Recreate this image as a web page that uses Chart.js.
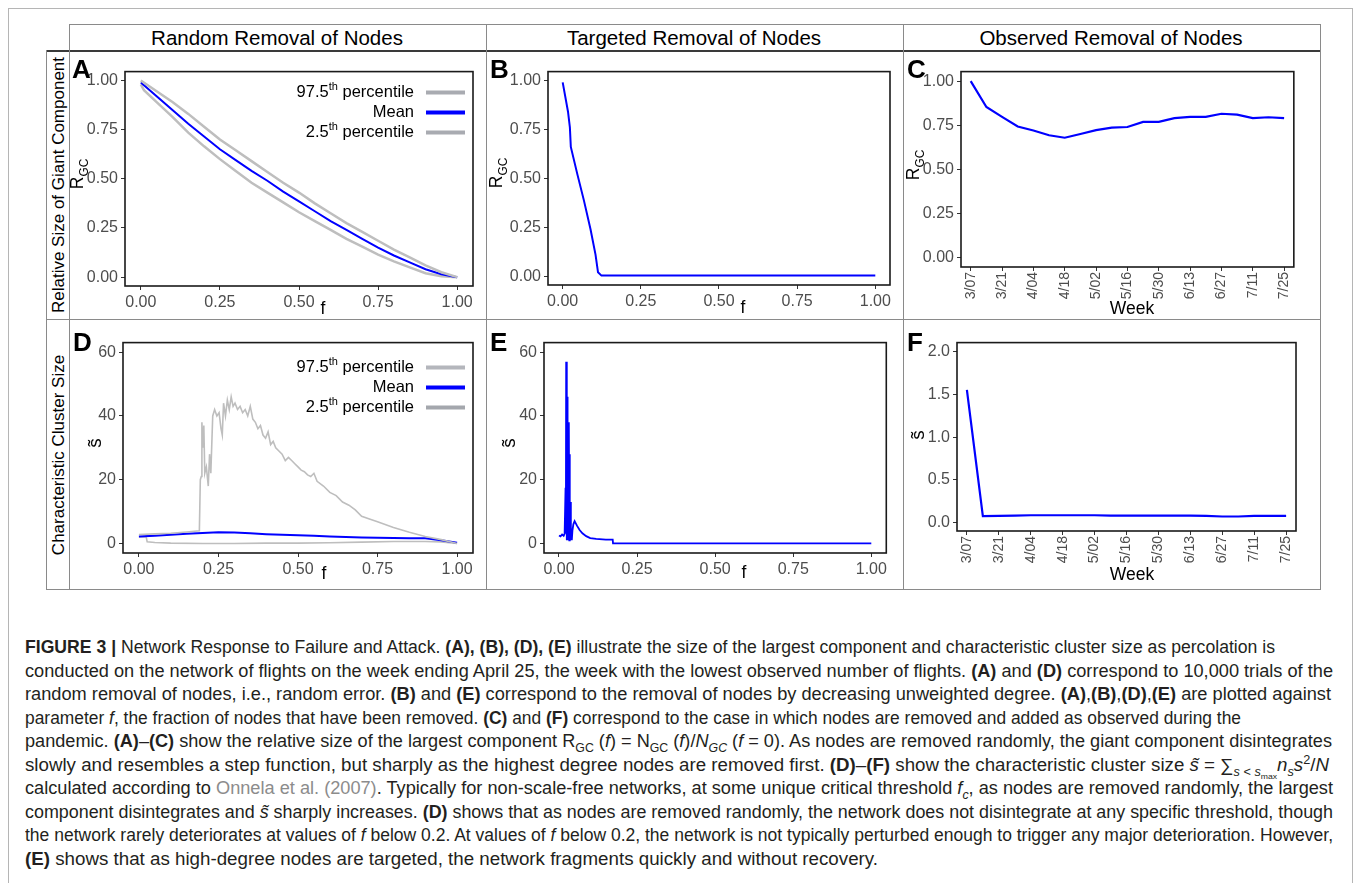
<!DOCTYPE html>
<html>
<head>
<meta charset="utf-8">
<script src="https://cdn.jsdelivr.net/npm/chart.js@4.4.0/dist/chart.umd.min.js"></script>
<style>
  body { margin:0; width:1355px; height:883px; position:relative; overflow:hidden; background:#fff;
         font-family:'Liberation Sans', Arial, sans-serif; color:#000; }
  .ln { position:absolute; background:#8a8a8a; }
  .t { position:absolute; white-space:nowrap; line-height:1; }
  .c { transform:translate(-50%,-50%); }
  .r { transform:translate(-50%,-50%) rotate(-90deg); }
  .lab { font-weight:bold; font-size:26px; }
  canvas { position:absolute; }
  sub, sup { font-size:0.68em; line-height:0; }
  .cap { position:absolute; left:25px; white-space:nowrap; font-size:17.5px; line-height:20px; color:#231f20; transform-origin:0 50%; }
</style>
</head>
<body>

<!-- page frame -->
<div class="ln" style="left:8px;top:8px;width:1px;height:880px;background:#b5b5b5"></div>
<div class="ln" style="left:8px;top:8px;width:1345px;height:1px;background:#b5b5b5"></div>
<div class="ln" style="left:1352px;top:8px;width:1px;height:880px;background:#b5b5b5"></div>

<!-- figure grid -->
<div class="ln" style="left:69px;top:24px;width:1252px;height:1px"></div>
<div class="ln" style="left:46px;top:50px;width:1275px;height:2px;background:#3a3a3a"></div>
<div class="ln" style="left:46px;top:50px;width:1px;height:540px"></div>
<div class="ln" style="left:69px;top:24px;width:1px;height:566px"></div>
<div class="ln" style="left:486px;top:24px;width:1px;height:566px"></div>
<div class="ln" style="left:903px;top:24px;width:1px;height:566px"></div>
<div class="ln" style="left:1320px;top:24px;width:1px;height:566px"></div>
<div class="ln" style="left:46px;top:319px;width:1275px;height:1px"></div>
<div class="ln" style="left:46px;top:589px;width:1275px;height:1px"></div>

<div class="t c" style="left:277px;top:38px;font-size:20.5px">Random Removal of Nodes</div>
<div class="t c" style="left:694px;top:38px;font-size:20.5px">Targeted Removal of Nodes</div>
<div class="t c" style="left:1111px;top:38px;font-size:20.5px">Observed Removal of Nodes</div>
<div class="t r" style="left:58px;top:185px;font-size:17px">Relative Size of Giant Component</div>
<div class="t r" style="left:58px;top:455px;font-size:17px">Characteristic Cluster Size</div>

<canvas id="chartA"></canvas>
<canvas id="chartB"></canvas>
<canvas id="chartC"></canvas>
<canvas id="chartD"></canvas>
<canvas id="chartE"></canvas>
<canvas id="chartF"></canvas>

<div class="t lab" style="left:72px;top:56px">A</div>
<div class="t lab" style="left:490px;top:56px">B</div>
<div class="t lab" style="left:907px;top:56px">C</div>
<div class="t lab" style="left:73px;top:329px">D</div>
<div class="t lab" style="left:490px;top:329px">E</div>
<div class="t lab" style="left:907px;top:329px">F</div>

<div class="t r" style="left:78px;top:174px;font-size:17.5px">R<sub>GC</sub></div>
<div class="t r" style="left:497px;top:173px;font-size:17.5px">R<sub>GC</sub></div>
<div class="t r" style="left:914px;top:165px;font-size:17.5px">R<sub>GC</sub></div>
<div class="t r" style="left:94px;top:443px;font-size:19px">s&#771;</div>
<div class="t r" style="left:508px;top:443px;font-size:19px">s&#771;</div>
<div class="t r" style="left:917px;top:435px;font-size:19px">s&#771;</div>

<div class="t c" style="left:323px;top:309px;font-size:17.5px">f</div>
<div class="t c" style="left:743px;top:308px;font-size:17.5px">f</div>
<div class="t c" style="left:1132px;top:309px;font-size:17.5px">Week</div>
<div class="t c" style="left:324px;top:574px;font-size:17.5px">f</div>
<div class="t c" style="left:744px;top:573px;font-size:17.5px">f</div>
<div class="t c" style="left:1132px;top:575px;font-size:17.5px">Week</div>

<!-- caption -->
<div class="cap" data-end="1275" style="top:637px"><b>FIGURE 3 |</b> Network Response to Failure and Attack. <b>(A), (B), (D), (E)</b> illustrate the size of the largest component and characteristic cluster size as percolation is</div>
<div class="cap" data-end="1333" style="top:661px">conducted on the network of flights on the week ending April 25, the week with the lowest observed number of flights. <b>(A)</b> and <b>(D)</b> correspond to 10,000 trials of the</div>
<div class="cap" data-end="1331" style="top:684px">random removal of nodes, i.e., random error. <b>(B)</b> and <b>(E)</b> correspond to the removal of nodes by decreasing unweighted degree. <b>(A)</b>,<b>(B)</b>,<b>(D)</b>,<b>(E)</b> are plotted against</div>
<div class="cap" data-end="1241" style="top:708px">parameter <i>f</i>, the fraction of nodes that have been removed. <b>(C)</b> and <b>(F)</b> correspond to the case in which nodes are removed and added as observed during the</div>
<div class="cap" data-end="1332" style="top:731px">pandemic. <b>(A)</b>–<b>(C)</b> show the relative size of the largest component R<sub>GC</sub> (<i>f</i>) = N<sub>GC</sub> (<i>f</i>)/<i>N<sub>GC</sub></i> (<i>f</i> = 0). As nodes are removed randomly, the giant component disintegrates</div>
<div class="cap" data-end="1329" style="top:755px">slowly and resembles a step function, but sharply as the highest degree nodes are removed first. <b>(D)</b>–<b>(F)</b> show the characteristic cluster size <i>s&#771;</i> = &sum;<sub><i>s</i> &lt; <i>s</i><sub>max</sub></sub><i>n<sub>s</sub>s</i><sup>2</sup>/<i>N</i></div>
<div class="cap" data-end="1333" style="top:778px">calculated according to <span style="color:#8c8c8c">Onnela et al. (2007)</span>. Typically for non-scale-free networks, at some unique critical threshold <i>f<sub>c</sub></i>, as nodes are removed randomly, the largest</div>
<div class="cap" data-end="1333" style="top:802px">component disintegrates and <i>s&#771;</i> sharply increases. <b>(D)</b> shows that as nodes are removed randomly, the network does not disintegrate at any specific threshold, though</div>
<div class="cap" data-end="1333" style="top:825px">the network rarely deteriorates at values of <i>f</i> below 0.2. At values of <i>f</i> below 0.2, the network is not typically perturbed enough to trigger any major deterioration. However,</div>
<div class="cap" data-end="878" style="top:849px"><b>(E)</b> shows that as high-degree nodes are targeted, the network fragments quickly and without recovery.</div>

<script>
// ---- data ----
const fracTicks = [0, 0.25, 0.5, 0.75, 1];
const rgcTicks = [0, 0.25, 0.5, 0.75, 1];
const sizeTicks = [0, 20, 40, 60];
const obsSizeTicks = [0, 0.5, 1, 1.5, 2];
const weekTicks = [0, 2, 4, 6, 8, 10, 12, 14, 16, 18, 20];
const weekLabels = ['3/07','3/14','3/21','3/28','4/04','4/11','4/18','4/25','5/02','5/09','5/16',
                    '5/23','5/30','6/06','6/13','6/20','6/27','7/04','7/11','7/18','7/25'];
const weekIndex = weekLabels.map((w, i) => i);

// A: random removal, relative size of giant component
const randF = [0,0.05,0.10,0.15,0.20,0.25,0.30,0.35,0.40,0.45,0.50,0.55,0.60,0.65,0.70,0.75,0.80,0.85,0.90,0.95,1.00];
const randMeanR = [0.99,0.92,0.85,0.78,0.715,0.65,0.595,0.54,0.49,0.435,0.385,0.335,0.285,0.24,0.195,0.15,0.11,0.075,0.04,0.015,0.0];
const randHiR = [1.0,0.945,0.89,0.83,0.765,0.70,0.645,0.59,0.535,0.48,0.43,0.375,0.325,0.275,0.23,0.185,0.14,0.10,0.06,0.025,0.0];
const randLoF = [0,0.01,0.05,0.10,0.15,0.20,0.25,0.30,0.35,0.40,0.45,0.50,0.55,0.60,0.65,0.70,0.75,0.80,0.85,0.90,0.95,1.00];
const randLoR = [0.98,0.95,0.89,0.815,0.735,0.665,0.60,0.54,0.48,0.43,0.38,0.33,0.285,0.24,0.195,0.155,0.115,0.08,0.05,0.02,0.005,0.0];

// B: targeted removal
const targF = [0,0.017,0.023,0.026,0.047,0.068,0.089,0.105,0.113,0.124,1.0];
const targR = [0.99,0.84,0.76,0.66,0.52,0.386,0.24,0.11,0.02,0.003,0.003];

// C / F: observed removal per week
const obsR = [1.0,0.853,0.797,0.743,0.72,0.693,0.679,0.70,0.722,0.736,0.74,0.769,0.769,0.79,0.797,0.797,0.815,0.81,0.79,0.795,0.79];
const obsS = [1.556,0.074,0.078,0.08,0.085,0.085,0.085,0.085,0.085,0.08,0.08,0.08,0.08,0.08,0.08,0.078,0.07,0.07,0.078,0.078,0.078];

// D: random removal, characteristic cluster size
const randMeanS = [2.2,2.4,2.7,3.0,3.3,3.5,3.4,3.2,2.9,2.7,2.6,2.4,2.2,2.0,1.9,1.8,1.7,1.6,1.6,1.0,0.2];
const randLoSF = [0,0.023,0.026,0.05,0.10,0.20,0.30,0.40,0.50,0.60,0.70,0.80,0.90,0.95,1.0];
const randLoS = [2.0,2.0,0.5,0.3,0.1,0.0,0.0,0.1,0.1,0.2,0.4,0.6,0.6,0.5,0.0];
const randHiSF = [0,0.05,0.10,0.15,0.19,0.193,0.196,0.198,0.201,0.204,0.207,0.212,0.218,0.222,0.226,0.232,0.238,0.245,0.252,0.258,0.262,
                  0.266,0.272,0.278,0.284,0.29,0.296,0.302,0.31,0.318,0.326,0.334,0.342,0.35,0.358,0.366,0.374,0.382,0.39,0.398,0.406,
                  0.414,0.422,0.43,0.44,0.45,0.46,0.47,0.48,0.49,0.50,0.51,0.52,0.53,0.54,0.55,0.56,0.58,0.60,0.62,0.64,0.66,0.68,0.70,
                  0.72,0.75,0.80,0.85,0.90,0.95,1.0];
const randHiS = [2.8,3.0,3.2,3.6,4.0,20,21,38,30,37,22,24,18,28,22,40,42,40,41,36,34,
                 44,40,45,42,46,43,44,42,43,41,42,40,43,39,38,36,37,34,33,35,
                 31,32,30,29,28,26,27,26,25,24,23,22.5,21.5,21,22,19.5,18,16,15,13,12,10.5,8.5,
                 7.8,6.8,5.0,3.5,2.2,1.2,0];

// E: targeted removal, characteristic cluster size
const targSF = [0,0.005,0.01,0.015,0.018,0.021,0.022,0.023,0.025,0.026,0.027,0.028,0.029,0.031,0.032,0.033,0.034,0.035,
                0.036,0.038,0.039,0.041,0.043,0.046,0.05,0.058,0.066,0.075,0.087,0.10,0.119,0.15,0.172,0.173,0.20,1.0];
const targS = [2.5,2.2,2.8,2.4,3.0,17.5,3,57,1,46,1,29,12,1,38,1,28,2,
               13,1,3,1,4,6,7,5.5,4.2,3.2,2.3,1.7,1.4,1.2,1.2,0,0,0];

const legendNames = ['97.5th percentile', 'Mean', '2.5th percentile'];

// ---- styling ----
const FONT = "'Liberation Sans', Arial, sans-serif";
const tickGrey = '#4d4d4d';
const blue = '#0000ff';
const grey = '#bebebe';

function pts(xs, ys) {
    return xs.map((x, i) => ({ x: x, y: ys[i] }));
}

function line(label, xs, ys, color, width) {
    return { label: label, data: pts(xs, ys), borderColor: color, borderWidth: width,
             pointRadius: 0, tension: 0, fill: false };
}

// black panel border like ggplot's theme_bw
const framePlugin = {
    id: 'frame',
    afterDraw(chart) {
        const a = chart.chartArea, ctx = chart.ctx;
        ctx.save();
        ctx.strokeStyle = '#1a1a1a';
        ctx.lineWidth = 1.6;
        ctx.strokeRect(a.left, a.top, a.right - a.left, a.bottom - a.top);
        ctx.restore();
    }
};

// legend drawn right aligned with line key on the right
const ggLegend = {
    id: 'ggLegend',
    afterDraw(chart, args, opts) {
        const ctx = chart.ctx, a = chart.chartArea;
        ctx.save();
        chart.data.datasets.forEach((ds, i) => {
            const y = a.top + opts.top + i * 20;
            const m = ds.label.match(/^([\d.]+)(th)(.*)$/);
            ctx.fillStyle = '#000';
            ctx.textBaseline = 'middle';
            const xr = a.right - 59;
            if (m) {
                ctx.font = '16.5px ' + FONT;
                const w1 = ctx.measureText(m[1]).width, w3 = ctx.measureText(m[3]).width;
                ctx.font = '11px ' + FONT;
                const w2 = ctx.measureText(m[2]).width;
                let x = xr - w1 - w2 - w3;
                ctx.font = '16.5px ' + FONT;
                ctx.fillText(m[1], x, y);
                ctx.font = '11px ' + FONT;
                ctx.fillText(m[2], x + w1, y - 6);
                ctx.font = '16.5px ' + FONT;
                ctx.fillText(m[3], x + w1 + w2, y);
            } else {
                ctx.font = '16.5px ' + FONT;
                ctx.textAlign = 'right';
                ctx.fillText(ds.label, xr, y);
                ctx.textAlign = 'left';
            }
            ctx.strokeStyle = opts.keys[i];
            ctx.lineWidth = 4;
            ctx.beginPath();
            ctx.moveTo(a.right - 47, y);
            ctx.lineTo(a.right - 8, y);
            ctx.stroke();
        });
        ctx.restore();
    }
};

function axis(min, max, ticks, fmt, size, rotate) {
    return {
        type: 'linear', min: min, max: max,
        afterBuildTicks: s => { s.ticks = ticks.map(v => ({ value: v })); },
        afterFit: s => { if (s.isHorizontal()) s.height = size; else s.width = size; },
        grid: { display: true, drawOnChartArea: false, drawTicks: true, tickLength: 4, color: '#333' },
        border: { display: false },
        ticks: { color: tickGrey, font: { family: FONT, size: rotate ? 14 : 16 }, padding: rotate ? 1 : 3,
                 autoSkip: false, minRotation: rotate ? 90 : 0, maxRotation: rotate ? 90 : 0,
                 callback: fmt }
    };
}

// plot = [left, top, right, bottom] of the panel area on the page
function panel(id, plot, yW, xH, datasets, xAxis, yAxis, legend) {
    const canvas = document.getElementById(id);
    canvas.width = yW + (plot[2] - plot[0]) + 3;
    canvas.height = 3 + (plot[3] - plot[1]) + xH;
    canvas.style.left = (plot[0] - yW) + 'px';
    canvas.style.top = (plot[1] - 3) + 'px';
    const plugins = [framePlugin];
    if (legend) plugins.push(ggLegend);
    return new Chart(canvas.getContext('2d'), {
        type: 'line',
        data: { datasets: datasets },
        options: {
            responsive: false, animation: false, events: [],
            layout: { padding: { top: 3, right: 3, left: 0, bottom: 0 } },
            scales: { x: xAxis, y: yAxis },
            plugins: { legend: { display: false }, tooltip: { enabled: false }, ggLegend: legend || {} }
        },
        plugins: plugins
    });
}

const two = v => v.toFixed(2);
const one = v => v.toFixed(1);
const int = v => String(v);
const week = v => weekLabels[v];

function main() {
    // A
    panel('chartA', [125, 62, 473, 286], 42, 32, [
        line(legendNames[0], randF, randHiR, grey, 2.5),
        line(legendNames[1], randF, randMeanR, blue, 2),
        line(legendNames[2], randLoF, randLoR, grey, 2.5)
    ], axis(-0.05, 1.05, fracTicks, two, 32), axis(-0.045, 1.045, rgcTicks, two, 42),
    { top: 21, keys: ['#a9abb1', blue, '#a9abb1'] });

    // B
    panel('chartB', [548, 62, 891, 285], 42, 32, [
        line('Targeted', targF, targR, blue, 2)
    ], axis(-0.047, 1.047, fracTicks, two, 32), axis(-0.045, 1.045, rgcTicks, two, 42));

    // C
    panel('chartC', [961, 62, 1299, 267], 42, 36, [
        line('Observed', weekIndex, obsR, blue, 2.2)
    ], axis(-0.62, 20.62, weekTicks, week, 36, true), axis(-0.054, 1.054, rgcTicks, two, 42));

    // D
    panel('chartD', [123, 333, 473, 553], 32, 32, [
        line(legendNames[0], randHiSF, randHiS, grey, 1.6),
        line(legendNames[1], randF, randMeanS, blue, 2),
        line(legendNames[2], randLoSF, randLoS, grey, 1.6)
    ], axis(-0.05, 1.05, fracTicks, two, 32), axis(-3, 63, sizeTicks, int, 32),
    { top: 25, keys: ['#b4b6bc', blue, '#a4a7ad'] });

    // E
    panel('chartE', [544, 333, 887, 553], 32, 32, [
        line('Targeted', targSF, targS, blue, 1.8)
    ], axis(-0.048, 1.048, fracTicks, two, 32), axis(-3, 63, sizeTicks, int, 32));

    // F
    panel('chartF', [957, 333, 1301, 531], 32, 36, [
        line('Observed', weekIndex, obsS, blue, 2.2)
    ], axis(-0.62, 20.62, weekTicks, week, 36, true), axis(-0.1, 2.11, obsSizeTicks, one, 32));

    // fit each caption line to its width in the original
    document.querySelectorAll('.cap').forEach(el => {
        const target = +el.dataset.end - 25;
        const w = el.getBoundingClientRect().width;
        el.style.transform = 'scaleX(' + (target / w) + ')';
    });
}

main()
</script>
</body>
</html>
